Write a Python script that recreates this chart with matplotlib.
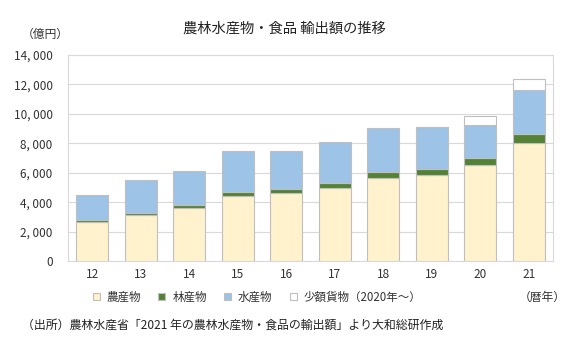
import matplotlib
matplotlib.use("Agg")
import matplotlib.pyplot as plt
import numpy as np
from matplotlib.patches import Patch

plt.rcParams['font.family'] = ['Noto Sans CJK JP', 'DejaVu Sans']

years = ["12", "13", "14", "15", "16", "17", "18", "19", "20", "21"]
agri = [2680, 3136, 3569, 4431, 4593, 4966, 5661, 5878, 6552, 8041]
forest = [123, 152, 211, 263, 268, 355, 376, 370, 429, 570]
fish = [1698, 2216, 2337, 2757, 2640, 2749, 3031, 2873, 2276, 3015]
small = [0, 0, 0, 0, 0, 0, 0, 0, 603, 756]
series_names = ["農産物", "林産物", "水産物", "少額貨物（2020年～）"]
colors = ["#FFF2CC", "#548235", "#9DC3E6", "#FFFFFF"]
yticks = [0, 2000, 4000, 6000, 8000, 10000, 12000, 14000]

fig = plt.figure(figsize=(5.8, 3.61), dpi=100)
ax = fig.add_axes([68/580, 1-261/361, (553-68)/580, (261-55)/361])

x = np.arange(len(years))
edge = "#BFBFBF"
bottom = np.zeros(len(years))
for vals, c in zip([agri, forest, fish, small], colors):
    v = np.array(vals, dtype=float)
    mask = v > 0
    ax.bar(x[mask], v[mask], bottom=bottom[mask], width=0.66, color=c,
           edgecolor=edge, linewidth=0.8, zorder=3)
    bottom += v

ax.set_xlim(-0.5, len(years) - 0.5)
ax.set_ylim(0, 14000)
ax.set_yticks(yticks)
ax.set_yticklabels([f"{t:,}".replace(",", ", ") for t in yticks], fontsize=8.5, color="#333333")
ax.set_xticks(x)
ax.set_xticklabels(years, fontsize=8.5, color="#333333")
ax.tick_params(axis='y', length=0, pad=11)
ax.tick_params(axis='x', length=0, pad=5)
ax.grid(axis='y', color="#D9D9D9", linewidth=0.8, zorder=0)
for s in ax.spines.values():
    s.set_color("#D9D9D9")
    s.set_linewidth(0.8)

fig.text(284/580, 1-29/361, "農林水産物・食品 輸出額の推移", ha='center', va='center', fontsize=10.3, color="#222222")
fig.text(22/580, 1-34/361, "（億円）", ha='left', va='center', fontsize=8.5, color="#333333")
fig.text(542/580, 1-297/361, "（暦年）", ha='center', va='center', fontsize=8.5, color="#333333")
fig.text(22/580, 1-325/361, "（出所）農林水産省「2021 年の農林水産物・食品の輸出額」より大和総研作成",
         ha='left', va='center', fontsize=8.6, color="#222222")

handles = [Patch(facecolor=c, edgecolor=edge, linewidth=0.8) for c in colors]
leg = fig.legend(handles, series_names, loc='center', bbox_to_anchor=(257/580, 1-297/361),
                 ncol=4, frameon=False, fontsize=8.3, handlelength=0.6, handleheight=0.6,
                 columnspacing=1.5, handletextpad=0.6)
for t in leg.get_texts():
    t.set_color("#333333")

fig.savefig("out.png", dpi=100)
